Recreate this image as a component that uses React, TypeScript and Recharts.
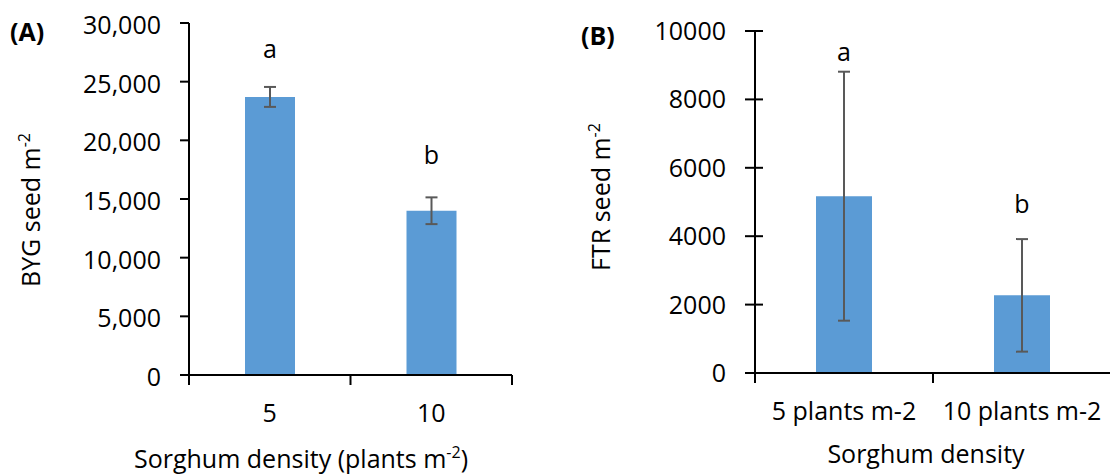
import React from 'react';
import { Bar, BarChart, ErrorBar, Label, LabelList, XAxis, YAxis } from 'recharts';

const FONT = '"Open Sans", sans-serif';
const BAR = '#5B9BD5';
const ERR = '#595959';
const FS = 25;

// (A) barnyardgrass seed
const bygDensity = ['5', '10'];
const bygSeed = [23700, 14000];
const bygSe = [850, 1140];
const bygLetters = ['a', 'b'];
const bygTicks = [0, 5000, 10000, 15000, 20000, 25000, 30000];

// (B) feathertop rhodes grass seed
const ftrDensity = ['5 plants m-2', '10 plants m-2'];
const ftrSeed = [5170, 2270];
const ftrSe = [3640, 1645];
const ftrLetters = ['a', 'b'];
const ftrTicks = [0, 2000, 4000, 6000, 8000, 10000];

const bygData = bygDensity.map((d, i) => ({ density: d, seed: bygSeed[i], se: bygSe[i] }));
const ftrData = ftrDensity.map((d, i) => ({ density: d, seed: ftrSeed[i], se: ftrSe[i] }));

const letterContent = (letters, se, gaps) => (props) => {
    const { x, y, width, height, value, index } = props;
    const pxPerUnit = Number(height) / Number(value);
    const top = Number(y) - se[index] * pxPerUnit;
    return (
        <text x={Number(x) + Number(width) / 2} y={top - gaps[index]} textAnchor='middle' fontFamily={FONT} fontSize={FS} fill='#000'>
            {letters[index]}
        </text>
    );
};

// x ticks drawn on category boundaries, like Excel
const bandTick = (baseline) => (props) => {
    const { x, y, payload, index, visibleTicksCount } = props;
    const half = payload.offset ?? 0;
    const last = index === visibleTicksCount - 1;
    return (
        <g>
            <line x1={x - half} x2={x - half} y1={y} y2={y + 10} stroke='#000' strokeWidth={2} />
            {last && <line x1={x + half} x2={x + half} y1={y} y2={y + 10} stroke='#000' strokeWidth={2} />}
            <text x={x} y={y + baseline} textAnchor='middle' fontFamily={FONT} fontSize={FS} fill='#000'>
                {payload.value}
            </text>
        </g>
    );
};

const yTickA = (props) => {
    const { x, y, payload } = props;
    return (
        <text x={x} y={y} dy={11} textAnchor='end' fontFamily={FONT} fontSize={FS} fill='#000'>
            {Number(payload.value).toLocaleString('en-US')}
        </text>
    );
};

const Y_MARGIN_B = 29;
const yTickB = (props) => {
    const { x, y, payload } = props;
    const ax = x + Y_MARGIN_B;
    return (
        <g>
            <line x1={ax - 10} x2={ax + 8} y1={y} y2={y} stroke='#000' strokeWidth={2} />
            <text x={x} y={y} dy={9} textAnchor='end' fontFamily={FONT} fontSize={FS} fill='#000'>
                {payload.value}
            </text>
        </g>
    );
};

const RotTitle = ({ x, y, main }) => (
    <text transform={`translate(${x},${y}) rotate(-90)`} textAnchor='middle' fontFamily={FONT} fontSize={FS} fill='#000'>
        {main}
        <tspan dy={-10} fontSize={16}>-2</tspan>
    </text>
);

export default function App() {
    const axisLine = { stroke: '#000', strokeWidth: 2 };
    return (
        <div style={{ position: 'absolute', left: 0, top: 0, width: 1110, height: 475, overflow: 'hidden', background: '#fff' }}>
            <div style={{ position: 'absolute', left: 10, top: 16, fontFamily: FONT, fontWeight: 700, fontSize: 25, lineHeight: '30px' }}>(A)</div>
            <div style={{ position: 'absolute', left: 581, top: 20, fontFamily: FONT, fontWeight: 700, fontSize: 25, lineHeight: '30px' }}>(B)</div>

            <div style={{ position: 'absolute', left: 0, top: 0 }}>
                <BarChart width={560} height={475} data={bygData} margin={{ top: 23, right: 48, left: 129, bottom: 70 }}>
                    <XAxis dataKey='density' height={30} axisLine={axisLine} tickLine={false} tickSize={0} tickMargin={0} tick={bandTick(47)} interval={0}>
                        <Label
                            content={() => (
                                <text x={301} y={468} textAnchor='middle' fontFamily={FONT} fontSize={FS} fill='#000'>
                                    Sorghum density (plants m
                                    <tspan dy={-10} fontSize={16}>-2</tspan>
                                    <tspan dy={10}>)</tspan>
                                </text>
                            )}
                        />
                    </XAxis>
                    <XAxis xAxisId='top' dataKey='density' orientation='top' height={0} axisLine={axisLine} tick={false} tickLine={false} />
                    <YAxis
                        width={60}
                        domain={[0, 30000]}
                        ticks={bygTicks}
                        interval={0}
                        axisLine={axisLine}
                        tickLine={{ stroke: '#000', strokeWidth: 2 }}
                        tickSize={9}
                        tickMargin={19}
                        tick={yTickA}
                    >
                        <Label content={() => <RotTitle x={40} y={210} main='BYG seed m' />} />
                    </YAxis>
                    <YAxis yAxisId='right' orientation='right' width={0} domain={[0, 30000]} axisLine={axisLine} tick={false} tickLine={false} />
                    <Bar dataKey='seed' fill={BAR} barSize={50} isAnimationActive={false}>
                        <ErrorBar dataKey='se' width={6} stroke={ERR} strokeWidth={2} direction='y' isAnimationActive={false} />
                        <LabelList dataKey='seed' content={letterContent(bygLetters, bygSe, [29, 33])} />
                    </Bar>
                </BarChart>
            </div>

            <div style={{ position: 'absolute', left: 560, top: 0 }}>
                <BarChart width={560} height={475} data={ftrData} margin={{ top: 31, right: 9, left: 135, bottom: 72 }}>
                    <XAxis dataKey='density' height={30} axisLine={axisLine} tickLine={false} tickSize={0} tickMargin={0} tick={bandTick(47)} interval={0}>
                        <Label
                            content={() => (
                                <text x={366} y={463} textAnchor='middle' fontFamily={FONT} fontSize={FS} fill='#000'>
                                    Sorghum density
                                </text>
                            )}
                        />
                    </XAxis>
                    <XAxis xAxisId='top' dataKey='density' orientation='top' height={0} axisLine={axisLine} tick={false} tickLine={false} />
                    <YAxis
                        width={60}
                        domain={[0, 10000]}
                        ticks={ftrTicks}
                        interval={0}
                        axisLine={axisLine}
                        tickLine={false}
                        tickSize={0}
                        tickMargin={Y_MARGIN_B}
                        tick={yTickB}
                    >
                        <Label content={() => <RotTitle x={50} y={197} main='FTR seed m' />} />
                    </YAxis>
                    <Bar dataKey='seed' fill={BAR} barSize={56} isAnimationActive={false}>
                        <ErrorBar dataKey='se' width={6} stroke={ERR} strokeWidth={2} direction='y' isAnimationActive={false} />
                        <LabelList dataKey='seed' content={letterContent(ftrLetters, ftrSe, [11, 26])} />
                    </Bar>
                </BarChart>
            </div>
        </div>
    );
}
